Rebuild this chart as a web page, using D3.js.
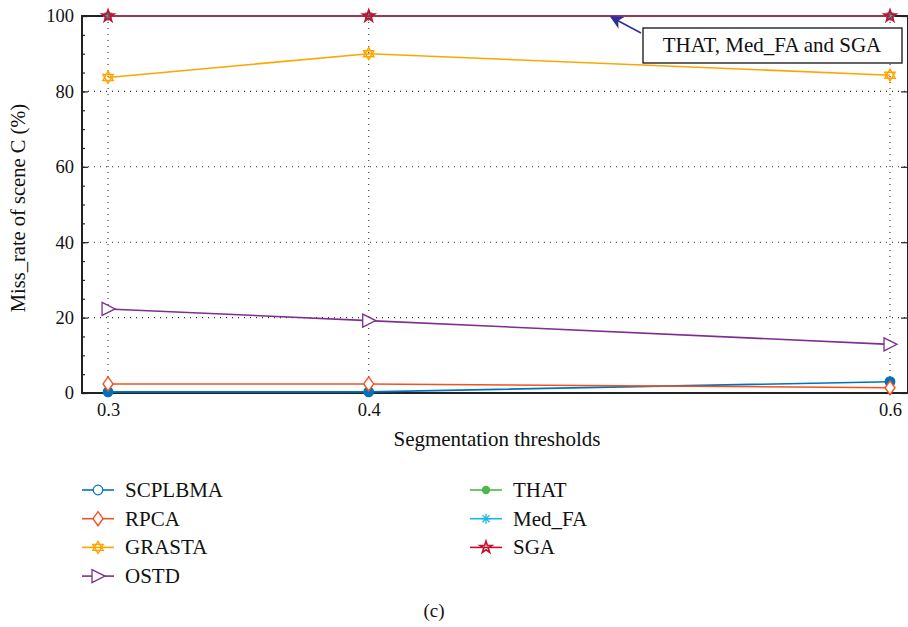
<!DOCTYPE html>
<html>
<head>
<meta charset="utf-8">
<script src="https://cdn.jsdelivr.net/npm/d3@7"></script>
<style>
  body { margin: 0; background: #fff; }
  svg { display: block; }
  svg text { font-family: 'Liberation Serif', 'Times New Roman', serif !important; }
</style>
</head>
<body>
<svg width="908" height="627" font-family="serif"></svg>
<script>
const thresholds = [0.3, 0.4, 0.6]
const xTickValues = [0.3, 0.4, 0.6]
const yTickValues = [0, 20, 40, 60, 80, 100]

const seriesNames = ["SCPLBMA", "RPCA", "GRASTA", "OSTD", "THAT", "Med_FA", "SGA"]
const scplbma = [0.3, 0.3, 3.0]
const rpca = [2.4, 2.4, 1.4]
const grasta = [83.7, 90.0, 84.3]
const ostd = [22.3, 19.2, 12.9]
const that = [100, 100, 100]
const medFA = [100, 100, 100]
const sga = [100, 100, 100]

const colors = ["#0072BD", "#F4511E", "#FFA500", "#7E2F8E", "#4DB848", "#1CB5E0", "#C8102E"]
const symbols = ["circle", "diamond", "hexagram", "triangle", "dot", "asterisk", "star"]
const values = [scplbma, rpca, grasta, ostd, that, medFA, sga]

const FONT = "serif"
const svg = d3.select("svg")
const plotLeft = 82, plotTop = 16, plotBottom = 393, plotRight = 908

const x = d3.scaleLinear().domain([0.29, 0.6069]).range([plotLeft, plotRight])
const y = d3.scaleLinear().domain([0, 100]).range([plotBottom, plotTop])

// dotted grid
const grid = svg.append("g")
  .attr("stroke", "#333").attr("stroke-width", 1.1)
  .attr("stroke-dasharray", "1,5")
grid.selectAll(".gy").data(yTickValues.filter(d => d > 0 && d < 100)).enter()
  .append("line")
  .attr("x1", plotLeft).attr("x2", plotRight)
  .attr("y1", d => y(d)).attr("y2", d => y(d))
grid.selectAll(".gx").data(xTickValues).enter()
  .append("line")
  .attr("x1", d => x(d)).attr("x2", d => x(d))
  .attr("y1", plotTop).attr("y2", plotBottom)

// axes
const yAxis = d3.axisLeft(y).tickValues(yTickValues).tickSize(-6).tickPadding(8)
const yMinor = d3.axisLeft(y).tickValues(d3.range(0, 101, 5)).tickSize(-3).tickFormat("")
const xAxis = d3.axisBottom(x).tickValues(xTickValues).tickSize(-6).tickPadding(10)
  .tickFormat(d3.format(".1f"))

const ga = svg.append("g")
ga.append("g").attr("transform", `translate(${plotLeft},0)`).call(yMinor)
ga.append("g").attr("transform", `translate(${plotLeft},0)`).call(yAxis)
ga.append("g").attr("transform", `translate(0,${plotBottom})`).call(xAxis)
ga.append("g").attr("transform", `translate(${plotRight - 1},0)`)
  .call(d3.axisRight(y).tickValues(yTickValues).tickSize(-6).tickFormat(""))
ga.selectAll(".domain").remove()
ga.selectAll("g").attr("font-family", FONT)
ga.selectAll("line").attr("stroke", "#222").attr("stroke-width", 1.2)
ga.selectAll("text").attr("font-size", 18.5).attr("fill", "#111")
  .attr("font-family", FONT)

// frame
svg.append("rect")
  .attr("x", plotLeft).attr("y", plotTop)
  .attr("width", plotRight - plotLeft).attr("height", plotBottom - plotTop)
  .attr("fill", "none").attr("stroke", "#222").attr("stroke-width", 2)

// marker drawing
function drawMarker(g, kind, color, cx, cy, filledCircle) {
  const s = 5
  if (kind === "circle") {
    g.append("circle").attr("cx", cx).attr("cy", cy).attr("r", 4.8)
      .attr("fill", filledCircle ? color : "#fff").attr("stroke", color).attr("stroke-width", 1.2)
  } else if (kind === "dot") {
    g.append("circle").attr("cx", cx).attr("cy", cy).attr("r", 4.2).attr("fill", color)
  } else if (kind === "diamond") {
    g.append("path").attr("d", `M${cx},${cy - 7}L${cx + 5},${cy}L${cx},${cy + 7}L${cx - 5},${cy}Z`)
      .attr("fill", "#fff").attr("stroke", color).attr("stroke-width", 1.4)
  } else if (kind === "triangle") {
    g.append("path").attr("d", `M${cx - 6},${cy - 6.5}L${cx + 7},${cy}L${cx - 6},${cy + 6.5}Z`)
      .attr("fill", "#fff").attr("stroke", color).attr("stroke-width", 1.3)
  } else if (kind === "hexagram") {
    const r = 6
    const tri = a => d3.range(3).map(i => {
      const t = a + i * 2 * Math.PI / 3
      return [cx + r * Math.sin(t), cy - r * Math.cos(t)]
    })
    g.append("path").attr("d", "M" + tri(0).join("L") + "Z M" + tri(Math.PI).join("L") + "Z")
      .attr("fill", "none").attr("stroke", color).attr("stroke-width", 1.4)
  } else if (kind === "asterisk") {
    d3.range(4).forEach(i => {
      const t = i * Math.PI / 4
      g.append("line")
        .attr("x1", cx - s * Math.cos(t)).attr("y1", cy - s * Math.sin(t))
        .attr("x2", cx + s * Math.cos(t)).attr("y2", cy + s * Math.sin(t))
        .attr("stroke", color).attr("stroke-width", 1.3)
    })
  } else if (kind === "star") {
    g.append("path").attr("d", d3.symbol(d3.symbolStar, 42)())
      .attr("transform", `translate(${cx},${cy})`)
      .attr("fill", "none").attr("stroke", color).attr("stroke-width", 1.7)
  }
}

// series
const line = d3.line().x((d, i) => x(thresholds[i])).y(d => y(d))
const plot = svg.append("g")
values.forEach((vals, k) => {
  plot.append("path").datum(vals).attr("d", line)
    .attr("fill", "none").attr("stroke", colors[k]).attr("stroke-width", 1.6)
  vals.forEach((v, i) => drawMarker(plot, symbols[k], colors[k], x(thresholds[i]), y(v), true))
})

function addText(sel, size) {
  return sel.append("text").attr("font-family", FONT).attr("font-size", size).attr("fill", "#111")
}

// annotation
svg.append("defs").append("marker")
  .attr("id", "arrow").attr("viewBox", "0 0 10 10").attr("refX", 9).attr("refY", 5)
  .attr("markerWidth", 9).attr("markerHeight", 9).attr("orient", "auto")
  .append("path").attr("d", "M0,0L10,5L0,10L3,5Z").attr("fill", "#2E2E9A")
svg.append("line")
  .attr("x1", 641).attr("y1", 33).attr("x2", 611).attr("y2", 17)
  .attr("stroke", "#2E2E9A").attr("stroke-width", 1.5).attr("marker-end", "url(#arrow)")
svg.append("rect").attr("x", 643).attr("y", 28).attr("width", 259).attr("height", 35)
  .attr("fill", "#fff").attr("stroke", "#111").attr("stroke-width", 1.3)
addText(svg, 21).attr("x", 772).attr("y", 52).attr("text-anchor", "middle")
  .text("THAT, Med_FA and SGA")

// axis titles
addText(svg, 21).attr("x", 497).attr("y", 446).attr("text-anchor", "middle")
  .text("Segmentation thresholds")
addText(svg, 20.5).attr("transform", "translate(25,208) rotate(-90)")
  .attr("text-anchor", "middle")
  .text("Miss_rate of scene C (%)")

// legend
const legend = svg.append("g")
seriesNames.forEach((name, k) => {
  const col = k < 4 ? 0 : 1
  const row = k < 4 ? k : k - 4
  const lx = col === 0 ? 82 : 470
  const ly = 490 + row * 28.7
  const g = legend.append("g")
  g.append("line").attr("x1", lx).attr("x2", lx + 32).attr("y1", ly).attr("y2", ly)
    .attr("stroke", colors[k]).attr("stroke-width", 1.6)
  drawMarker(g, symbols[k], colors[k], lx + 16, ly, false)
  addText(g, 21).attr("x", lx + 43).attr("y", ly + 7).text(name)
})

addText(svg, 19).attr("x", 434).attr("y", 617).attr("text-anchor", "middle").text("(c)")
</script>
</body>
</html>
